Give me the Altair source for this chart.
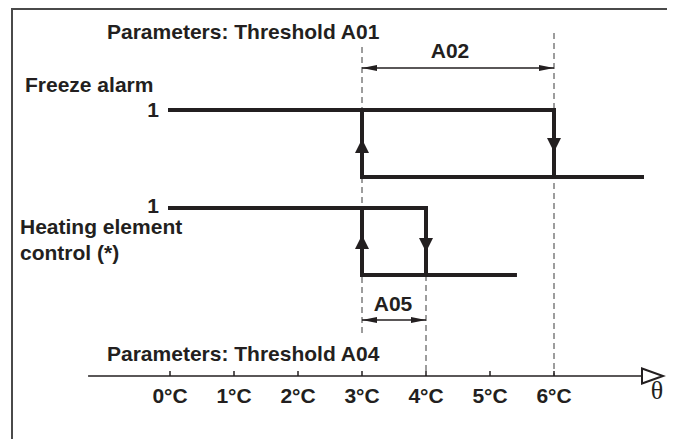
import altair as alt
import pandas as pd

# ---- data -------------------------------------------------------------
temps = [0, 1, 2, 3, 4, 5, 6]
tick_labels = ["0°C", "1°C", "2°C", "3°C", "4°C", "5°C", "6°C"]

freeze_on_at = 3      # A01
freeze_off_at = 6     # A01 + A02
freeze_start = 0
freeze_end = 7.375

heat_on_at = 3        # A04
heat_off_at = 4       # A04 + A05
heat_start = 0
heat_end = 5.39

# vertical lanes (page px) for signal levels
lane_freeze = {"hi": 110, "lo": 177}
lane_heat = {"hi": 208, "lo": 275}
axis_y = 376

W, H = 659, 431
X0 = 170 - 8          # px of 0°C inside chart
PX = 64               # px per °C
xdom = [-X0 / PX, (W - X0) / PX]
ink = "#231f20"
font = "Liberation Sans"
FS = 21

xs = alt.Scale(domain=xdom, nice=False, zero=False)
ys = alt.Scale(domain=[8, 8 + H], reverse=True, nice=False, zero=False)

def X(f):
    return alt.X(f, type="quantitative", scale=xs, axis=None)

def Y(f):
    return alt.Y(f, type="quantitative", scale=ys, axis=None)

# ---- segments ---------------------------------------------------------
seg = pd.DataFrame([
    (freeze_start, freeze_off_at, lane_freeze["hi"], lane_freeze["hi"]),
    (freeze_on_at, freeze_end, lane_freeze["lo"], lane_freeze["lo"]),
    (freeze_on_at, freeze_on_at, lane_freeze["lo"], lane_freeze["hi"]),
    (freeze_off_at, freeze_off_at, lane_freeze["hi"], lane_freeze["lo"]),
    (heat_start, heat_off_at, lane_heat["hi"], lane_heat["hi"]),
    (heat_on_at, heat_end, lane_heat["lo"], lane_heat["lo"]),
    (heat_on_at, heat_on_at, lane_heat["lo"], lane_heat["hi"]),
    (heat_off_at, heat_off_at, lane_heat["hi"], lane_heat["lo"]),
], columns=["x", "x2", "y", "y2"])

dashes = pd.DataFrame([
    (freeze_on_at, 47, 337),
    (freeze_off_at, 33, axis_y),
    (heat_off_at, lane_heat["lo"], axis_y),
], columns=["x", "y", "y2"])

axis_line = pd.DataFrame([{"x": -1.28, "x2": 7.375, "y": axis_y}])
ticks = pd.DataFrame({"x": temps, "lab": tick_labels, "y": axis_y - 5, "y2": axis_y, "ty": 403})

up = "M0,0L-1,2L1,2Z"
down = "M0,0L-1,-2L1,-2Z"
arrows_v = pd.DataFrame([
    (freeze_on_at, 139, "up"),
    (freeze_off_at, 152, "down"),
    (heat_on_at, 235, "up"),
    (heat_off_at, 252, "down"),
], columns=["x", "y", "dir"])

dims = pd.DataFrame([
    (freeze_on_at, freeze_off_at, 68),
    (heat_on_at, heat_off_at, 320),
], columns=["x", "x2", "y"])
right_head = "M0,0L-2,-0.4L-2,0.4Z"
left_head = "M0,0L2,-0.4L2,0.4Z"

# ---- layers -----------------------------------------------------------
border = alt.Chart(pd.DataFrame([{"a": 1}])).mark_rect(
    fill=None, stroke="#4a4a4a", strokeWidth=2
).encode(x=alt.value(4), x2=alt.value(663), y=alt.value(1), y2=alt.value(H + 20))

dash_l = alt.Chart(dashes).mark_rule(color="#3a3a3a", strokeWidth=1, strokeDash=[6, 4]).encode(
    x=X("x"), y=Y("y"), y2="y2")

seg_l = alt.Chart(seg).mark_rule(color=ink, strokeWidth=4, strokeCap="square").encode(
    x=X("x"), x2="x2", y=Y("y"), y2="y2")

arr_up = alt.Chart(arrows_v[arrows_v.dir == "up"]).mark_point(
    shape=up, size=196, filled=True, color=ink, opacity=1).encode(x=X("x"), y=Y("y"))
arr_dn = alt.Chart(arrows_v[arrows_v.dir == "down"]).mark_point(
    shape=down, size=196, filled=True, color=ink, opacity=1).encode(x=X("x"), y=Y("y"))

dim_line = alt.Chart(dims).mark_rule(color=ink, strokeWidth=1.5).encode(
    x=X("x"), x2="x2", y=Y("y"))
dim_r = alt.Chart(dims).mark_point(shape=right_head, size=225, filled=True, color=ink, opacity=1).encode(
    x=X("x2"), y=Y("y"))
dim_l = alt.Chart(dims).mark_point(shape=left_head, size=225, filled=True, color=ink, opacity=1).encode(
    x=X("x"), y=Y("y"))

ax_l = alt.Chart(axis_line).mark_rule(color=ink, strokeWidth=1.5).encode(
    x=X("x"), x2="x2", y=Y("y"))
ax_head = alt.Chart(axis_line).mark_point(
    shape="M0,-1L2.8,0L0,1Z", size=225, filled=False, fill="white", stroke=ink,
    strokeWidth=2, opacity=1).encode(x=X("x2"), y=Y("y"))
tick_l = alt.Chart(ticks).mark_rule(color=ink, strokeWidth=1.5).encode(
    x=X("x"), y=Y("y"), y2="y2")
tick_t = alt.Chart(ticks).mark_text(
    font=font, fontSize=FS, fontWeight="bold", color=ink, baseline="alphabetic", align="center"
).encode(x=X("x"), y=Y("ty"), text="lab")

texts = pd.DataFrame([
    ("Parameters: Threshold A01", 107, 39, "left"),
    ("A02", 450, 58, "center"),
    ("Freeze alarm", 25, 92, "left"),
    ("1", 159, 117, "right"),
    ("1", 159, 213, "right"),
    ("Heating element", 20, 234, "left"),
    ("control (*)", 20, 260, "left"),
    ("A05", 393, 311, "center"),
    ("Parameters: Threshold A04", 107, 361, "left"),
], columns=["t", "px", "py", "al"])

def txt(row):
    return alt.Chart(pd.DataFrame([row])).mark_text(
        font=font, fontSize=FS, fontWeight="bold", color=ink, baseline="alphabetic",
        align=row["al"]).encode(
        x=alt.value(row["px"] - 8), y=alt.value(row["py"] - 8), text="t")

text_layers = [txt(r) for r in texts.to_dict("records")]

theta = alt.Chart(pd.DataFrame([{"t": "θ"}])).mark_text(
    font="Liberation Serif", fontSize=26, color=ink, baseline="middle", align="center"
).encode(x=alt.value(657 - 8), y=alt.value(391 - 8), text="t")

chart = alt.layer(
    border, dash_l, ax_l, tick_l, seg_l, arr_up, arr_dn, dim_line, dim_r, dim_l,
    ax_head, tick_t, *text_layers, theta
).properties(
    width=W, height=H, autosize=alt.AutoSizeParams(type="none"), padding=0,
    background="white"
).configure_view(stroke=None)

chart.save("out.html", embed_options={"renderer": "svg", "actions": False})
